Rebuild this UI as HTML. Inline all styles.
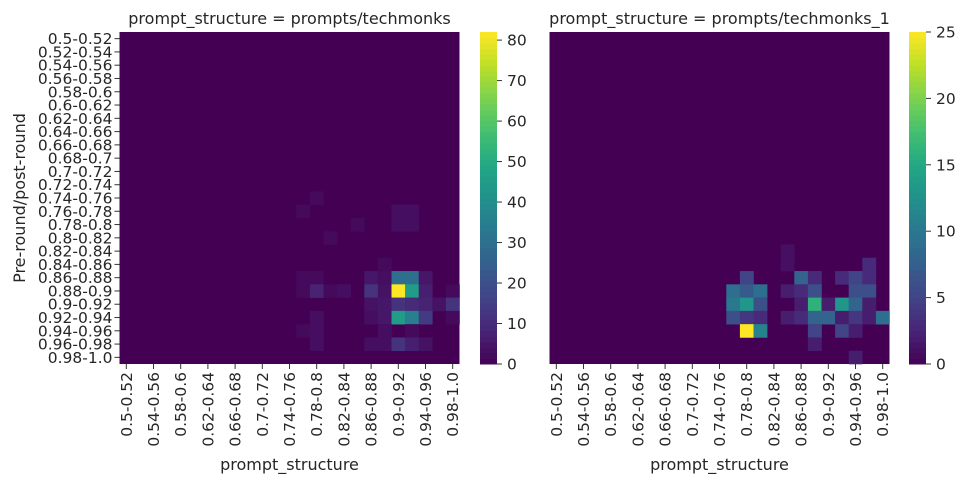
<!DOCTYPE html>
<html><head><meta charset="utf-8"><style>
body{margin:0;background:#fff;font-family:"DejaVu Sans","Liberation Sans",sans-serif;}
svg text{fill:#262626;font-family:"DejaVu Sans","Liberation Sans",sans-serif;}
</style></head><body>
<svg id="c" width="969" height="484" xmlns="http://www.w3.org/2000/svg"></svg>
<script>
const bins = ["0.5-0.52","0.52-0.54","0.54-0.56","0.56-0.58","0.58-0.6","0.6-0.62","0.62-0.64","0.64-0.66","0.66-0.68","0.68-0.7","0.7-0.72","0.72-0.74","0.74-0.76","0.76-0.78","0.78-0.8","0.8-0.82","0.82-0.84","0.84-0.86","0.86-0.88","0.88-0.9","0.9-0.92","0.92-0.94","0.94-0.96","0.96-0.98","0.98-1.0"];
// [row, col, value]
const cellsLeft = [[12,14,2],[13,13,2],[13,20,3],[13,21,3],[14,17,2],[14,20,3],[14,21,3],[15,15,2],[17,19,2],
[18,13,2],[18,14,2],[18,18,5],[18,19,3],[18,20,30],[18,21,30],[18,22,5],
[19,13,2],[19,14,8],[19,15,2],[19,16,3],[19,18,12],[19,19,4],[19,20,82],[19,21,45],[19,22,7],[19,24,2],
[20,18,4],[20,19,5],[20,20,12],[20,21,10],[20,22,8],[20,23,4],[20,24,12],
[21,14,3],[21,18,3],[21,19,5],[21,20,45],[21,21,35],[21,22,14],[21,24,2],
[22,13,2],[22,14,3],[22,19,3],[22,21,2],[23,14,3],[23,18,3],[23,19,3],[23,20,12],[23,21,7],[23,22,4]];
const cellsRight = [[16,17,1],[17,17,1],[17,23,3],[18,14,5],[18,18,8],[18,19,3],[18,21,3],[18,22,5],[18,23,3],
[19,13,9],[19,14,7],[19,15,9],[19,17,2],[19,18,3],[19,19,6],[19,22,6],[19,23,6],
[20,13,10],[20,14,13],[20,15,6],[20,18,2],[20,19,16],[20,20,2],[20,21,13],[20,22,8],[20,23,2],
[21,13,6],[21,14,4],[21,15,3],[21,17,2],[21,18,3],[21,19,8],[21,20,8],[21,21,2],[21,22,4],[21,23,2],[21,24,9],
[22,14,25],[22,15,11],[22,19,5],[22,21,5],[22,22,2],[23,19,2],[24,22,2]];
const maxLeft = 82, maxRight = 25;
const ticksLeft = [0,10,20,30,40,50,60,70,80];
const ticksRight = [0,5,10,15,20,25];

const V=[[68,1,84],[72,36,117],[65,68,135],[53,95,141],[42,120,142],[33,145,140],[34,168,132],[68,191,112],[122,209,81],[189,223,38],[253,231,37]];
function vir(t){t=Math.max(0,Math.min(1,t));const p=t*10,i=Math.min(9,Math.floor(p)),f=p-i;const a=V[i],b=V[i+1];
return `rgb(${a.map((v,k)=>Math.round(v+(b[k]-v)*f)).join(',')})`;}
const svg=document.getElementById('c');const NS='http://www.w3.org/2000/svg';
function el(tag,attrs,parent,txt){const e=document.createElementNS(NS,tag);for(const k in attrs)e.setAttribute(k,attrs[k]);if(txt!==undefined)e.textContent=txt;(parent||svg).appendChild(e);return e;}
const topY=32,H=332,cw=13.6,ch=H/25,FS=15.5;
function panel(x0,cells,max,ticks,cbx,title,showY,name){
  const g=el('g',{},svg);
  
  
  const bg=el('rect',{x:x0,y:topY,width:cw*25,height:H,fill:vir(0)},g);
  
  
  cells.forEach(([r,c,v])=>{
    const rc=el('rect',{x:x0+c*cw,y:topY+r*ch,width:cw+0.3,height:ch+0.3,fill:vir(v/max)},g);
    
    
  });
  const t=el('text',{x:x0+cw*12.5,y:24,'text-anchor':'middle','font-size':16},g,title);
  
  
  bins.forEach((b,i)=>{
    if(i%2===0){const cx=x0+(i+0.5)*cw;
      el('line',{x1:cx,x2:cx,y1:topY+H,y2:topY+H+5,stroke:'#333'},g);
      const tx=el('text',{x:0,y:0,transform:`translate(${cx+5.5},${topY+H+8}) rotate(-90)`,'text-anchor':'end','font-size':FS},g,b);
      
      }
    if(showY){const cy=topY+(i+0.5)*ch;
      el('line',{x1:x0-5,x2:x0,y1:cy,y2:cy,stroke:'#333'},g);
      const ty=el('text',{x:x0-7,y:cy+5.5,'text-anchor':'end','font-size':FS},g,b);
      
      }
  });
  const xl=el('text',{x:x0+cw*12.5,y:470,'text-anchor':'middle','font-size':16},g,'prompt_structure');
  
  
  const n=60;
  for(let k=0;k<n;k++){const r=el('rect',{x:cbx,y:topY+H-(k+1)*H/n,width:17,height:H/n+0.5,fill:vir((k+0.5)/n)},g);
    
    }
  ticks.forEach(v=>{const y=topY+H-v/max*H;
    el('line',{x1:cbx+17,x2:cbx+22,y1:y,y2:y,stroke:'#333'},g);
    const tl=el('text',{x:cbx+27,y:y+5.5,'font-size':FS},g,String(v));
    
    });
}
panel(119.5,cellsLeft,maxLeft,ticksLeft,480,'prompt_structure = prompts/techmonks',true,'left-heatmap');
panel(549.5,cellsRight,maxRight,ticksRight,909,'prompt_structure = prompts/techmonks_1',false,'right-heatmap');
const yl=el('text',{x:0,y:0,transform:'translate(25,198) rotate(-90)','text-anchor':'middle','font-size':16},svg,'Pre-round/post-round');


</script>
</body></html>
